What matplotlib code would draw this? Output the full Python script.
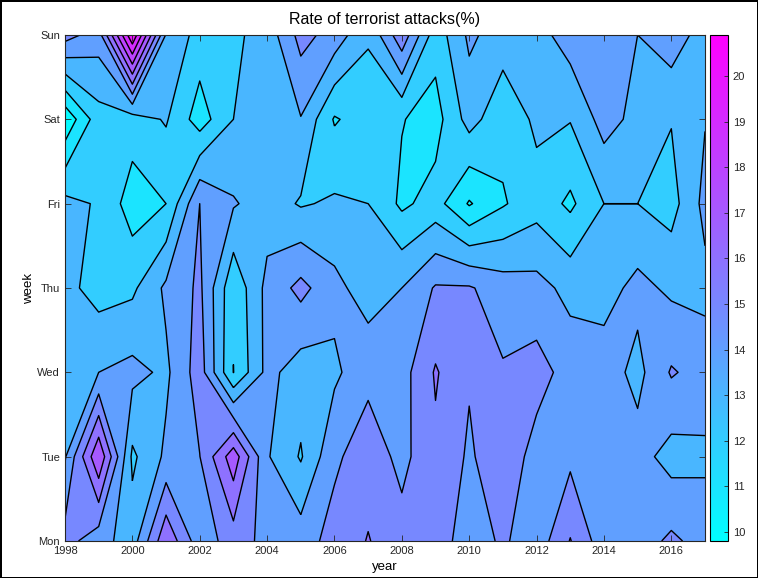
import numpy as np
import matplotlib
matplotlib.use("Agg")
import matplotlib.pyplot as plt
from matplotlib import cm, colors as mcolors

plt.rcParams['font.family'] = ['Liberation Sans', 'DejaVu Sans']

years = list(range(1998, 2018))
days = ['Mon', 'Tue', 'Wed', 'Thu', 'Fri', 'Sat', 'Sun']

mon = [15.4, 14.4, 13.5, 16.8, 14.4, 15.5, 14.7, 14.5, 15.4, 16.05, 15.4, 15.5, 14.5, 15.15, 14.4, 16.05, 14.4, 14.5, 15.2, 14.6]
tue = [13.9, 17.9, 12.8, 14.2, 14.98, 17.6, 14.1, 12.9, 14.8, 15.6, 14.7, 15.8, 14.85, 15.7, 14.6, 14.77, 14.5, 14.4, 13.6, 13.8]
wed = [13.8, 14.0, 14.3, 13.8, 15.5, 11.98, 14.3, 13.5, 13.8, 14.7, 14.6, 16.1, 15.1, 15.1, 15.4, 14.6, 14.5, 13.7, 15.1, 14.6]
thu = [13.3, 12.6, 12.8, 14.2, 15.2, 12.2, 14.3, 15.3, 14.3, 13.5, 14.0, 15.1, 15.1, 14.5, 14.35, 13.7, 13.6, 14.3, 13.8, 13.7]
fri = [13.3, 12.9, 11.5, 12.0, 15.0, 14.1, 13.5, 12.9, 13.15, 13.0, 11.8, 12.4, 10.9, 11.9, 12.6, 11.8, 13.0, 13.0, 12.6, 14.3]
sat = [10.2, 12.6, 12.5, 13.1, 11.5, 13.0, 13.3, 13.95, 11.9, 12.5, 12.05, 11.6, 13.4, 12.3, 13.2, 13.05, 14.4, 13.7, 13.05, 13.95]
sun = [15.4, 14.5, 20.9, 13.9, 12.6, 12.8, 13.4, 15.35, 14.6, 13.1, 15.7, 12.4, 14.2, 13.5, 13.6, 14.5, 14.6, 14.0, 14.6, 13.5]

levels = list(range(10, 21))
cmin, cmax = 9.8, 20.9

Z = np.array([mon, tue, wed, thu, fri, sat, sun])
X, Y = np.meshgrid(np.array(years, dtype=float), np.arange(len(days)))

fig = plt.figure(figsize=(7.58, 5.78), dpi=100)
W, H = 758, 578
ax = fig.add_axes([65 / W, 1 - 541 / H, 640 / W, 506 / H])
cax = fig.add_axes([710 / W, 1 - 541 / H, 18 / W, 506 / H])

cmap = plt.get_cmap('cool')
norm = mcolors.Normalize(cmin, cmax)
fill_levels = [min(cmin, Z.min()) - 0.01] + levels + [max(cmax, Z.max()) + 0.01]
fill_colors = [cmap(norm(cmin))] + [cmap(norm(l)) for l in levels]
ax.contourf(X, Y, Z, levels=fill_levels, colors=fill_colors)
ax.contour(X, Y, Z, levels=levels, colors='black', linewidths=1.0)

ax.set_xlim(1998, 2017)
ax.set_ylim(0, 6)
ax.set_xticks(list(range(1998, 2017, 2)))
ax.set_yticks(range(len(days)))
ax.set_yticklabels(days)
ax.tick_params(direction='in', top=True, right=True, labelsize=8, length=4, width=0.6, colors='#262626')
for s in ax.spines.values():
    s.set_linewidth(0.8)
    s.set_color('#262626')
ax.set_xlabel('year', fontsize=9.5, labelpad=4)
ax.set_ylabel('week', fontsize=9.5, labelpad=2)
ax.set_title('Rate of terrorist attacks(%)', fontsize=11.5, pad=8)

sm = cm.ScalarMappable(norm=norm, cmap=cmap)
cb = fig.colorbar(sm, cax=cax, ticks=levels)
cb.ax.tick_params(labelsize=8, direction='in', length=3, width=0.6, colors='#262626')
cb.outline.set_linewidth(0.8)

fig.patch.set_edgecolor('black')
fig.patch.set_linewidth(2)
fig.savefig('out.png', dpi=100, edgecolor=fig.get_edgecolor())
